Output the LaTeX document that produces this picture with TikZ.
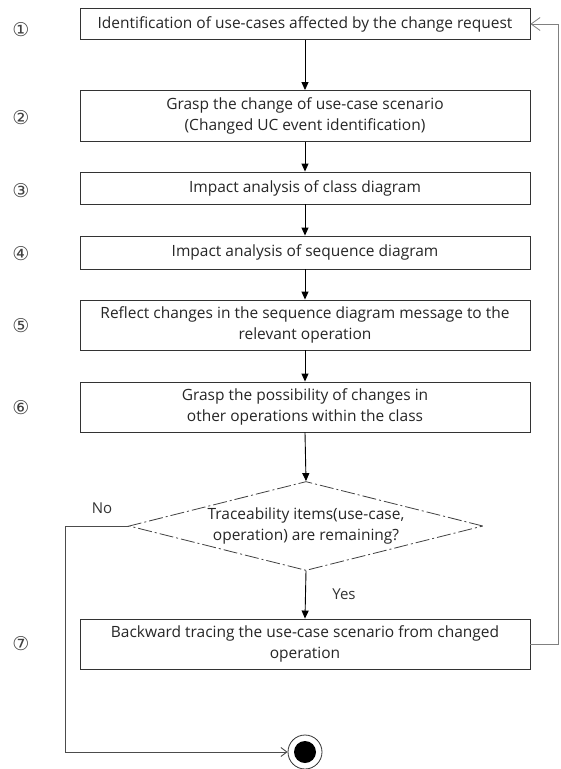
\documentclass[tikz,border=0pt]{standalone}
\usepackage{fontspec}
\setmainfont{Open Sans}
\newfontfamily\symfont{DejaVu Sans}
\usetikzlibrary{arrows.meta,shapes.geometric}
\begin{document}
\begin{tikzpicture}[x=1pt,y=-1pt,
  stepbox/.style={draw=black!80,line width=0.9pt,minimum width=450pt,inner sep=0pt,align=center,font=\fontsize{15.5}{20.5}\selectfont,text=black!85},
  flow/.style={draw=black,line width=0.9pt,-{Triangle[length=8pt,width=7pt]}},
  numlbl/.style={font=\symfont\fontsize{19}{19}\selectfont,text=black!75,inner sep=0pt},
  lbl/.style={font=\fontsize{15}{17}\selectfont,text=black!80,inner sep=0pt}]
\useasboundingbox (0,0) rectangle (561,769);
\fill[white] (0,0) rectangle (561,769);

\node[stepbox,minimum height=31pt] (b1) at (305,24) {Identification of use-cases affected by the change request};
\node[stepbox,minimum height=51pt] (b2) at (305,116) {Grasp the change of use-case scenario\\(Changed UC event identification)};
\node[stepbox,minimum height=32pt] (b3) at (305,188) {Impact analysis of class diagram};
\node[stepbox,minimum height=33pt] (b4) at (305,252.5) {Impact analysis of sequence diagram};
\node[stepbox,minimum height=50pt] (b5) at (305,325) {Reflect changes in the sequence diagram message to the\\relevant operation};
\node[stepbox,minimum height=50pt] (b6) at (305,407) {Grasp the possibility of changes in\\other operations within the class};
\node[diamond,draw=black!75,line width=0.8pt,dash pattern=on 14pt off 3pt on 2pt off 3pt,aspect=3.9,inner sep=0pt,minimum width=354pt,minimum height=89pt,align=center,font=\fontsize{15.5}{20.5}\selectfont,text=black!85] (d) at (306,526) {Traceability items(use-case,\\operation) are remaining?};
\node[stepbox,minimum height=50pt] (b7) at (305,644) {Backward tracing the use-case scenario from changed\\operation};

\node[circle,draw=black!80,line width=0.8pt,minimum size=34pt,inner sep=0pt] (end) at (305,752) {};
\node[circle,fill=black,minimum size=22pt,inner sep=0pt] (endin) at (end) {};

\node[numlbl] (n1) at (21,30) {①};
\node[numlbl] (n2) at (21,118) {②};
\node[numlbl] (n3) at (21,191) {③};
\node[numlbl] (n4) at (21,254) {④};
\node[numlbl] (n5) at (21,326) {⑤};
\node[numlbl] (n6) at (21,408) {⑥};
\node[numlbl] (n7) at (21,644) {⑦};

\node[lbl] (no) at (102,508) {No};
\node[lbl] (yes) at (344,594) {Yes};

\draw[flow] (b1) -- (b2);
\draw[flow] (b2) -- (b3);
\draw[flow] (b3) -- (b4);
\draw[flow] (b4) -- (b5);
\draw[flow] (b5) -- (b6);
\draw[flow] (b6.south) -- (d.north);
\draw[flow] (d.south) -- (b7.north);

\coordinate (fb1) at (558,644);
\coordinate (fb2) at (558,24);
\draw[black!50,line width=0.8pt,-{Straight Barb[length=9pt,width=13pt]}] (b7.east) -- (fb1) -- (fb2) -- (b1.east);

\coordinate (no1) at (65,526);
\coordinate (no2) at (65,752);
\draw[black!70,line width=0.9pt,-{Straight Barb[length=6pt,width=9pt]}] (d.west) -- (no1) -- (no2) -- (end.west);
\end{tikzpicture}
\end{document}
